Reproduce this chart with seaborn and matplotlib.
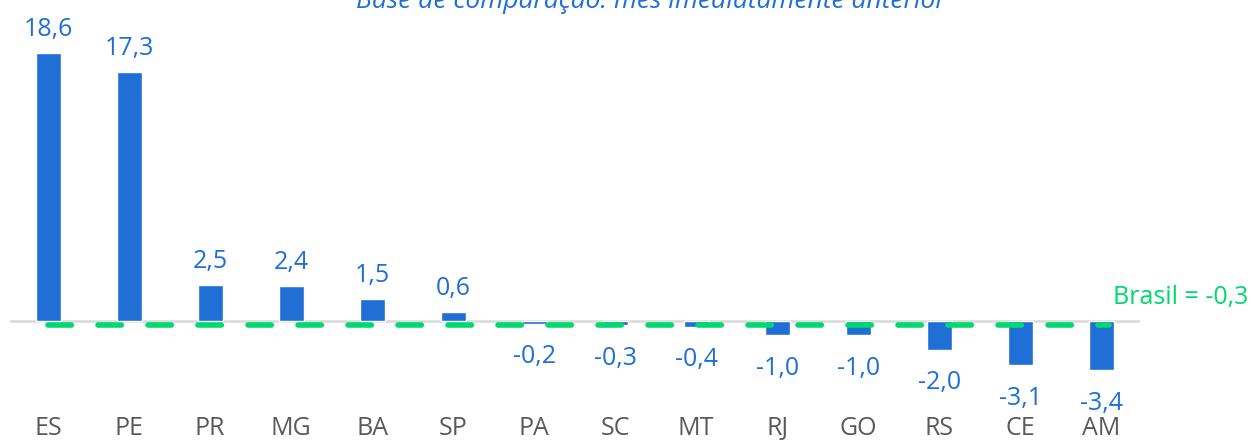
import matplotlib
matplotlib.use("Agg")
import matplotlib.pyplot as plt
import seaborn as sns
import pandas as pd

estados = ["ES", "PE", "PR", "MG", "BA", "SP", "PA", "SC", "MT", "RJ", "GO", "RS", "CE", "AM"]
variacao = [18.6, 17.3, 2.5, 2.4, 1.5, 0.6, -0.2, -0.3, -0.4, -1.0, -1.0, -2.0, -3.1, -3.4]
brasil = -0.3
titulo = "Base de comparação: mês imediatamente anterior"

azul = "#1F6FD6"
verde = "#00D96F"

sns.set_style("white")
plt.rcParams["font.family"] = ["Open Sans", "DejaVu Sans"]

df = pd.DataFrame({"estado": estados, "valor": variacao})

fig = plt.figure(figsize=(12.51, 4.43), dpi=100)
ax = fig.add_axes([10 / 1251, 1 - 410 / 443, 1130 / 1251, 380 / 443])

sns.barplot(data=df, x="estado", y="valor", color=azul, width=0.31,
            saturation=1, ax=ax, zorder=2)

# linha do zero e media Brasil
ax.axhline(0, color="#d9d9d9", lw=1.8, zorder=1)
ax.plot([0, len(estados) - 0.9], [brasil, brasil], color=verde, lw=4,
        ls=(0, (4.2, 4.8)), dash_capstyle="round", zorder=3)

for i, v in enumerate(variacao):
    txt = f"{v:.1f}".replace(".", ",")
    off = 17 if v >= 0 else -24
    ax.annotate(txt, (i, v), xytext=(0, off), textcoords="offset points",
                ha="center", va="center", fontsize=18, color=azul)

ax.annotate("Brasil = -0,3", (1.0, brasil), xycoords=ax.get_yaxis_transform(),
            xytext=(-19.5, 20), textcoords="offset points",
            ha="left", va="center", fontsize=18, color=verde)

ax.set_xlim(-0.47, 13.48)
ax.set_ylim(-6.2, 20.2)
ax.set_xlabel("")
ax.set_ylabel("")
ax.set_yticks([])
ax.tick_params(axis="x", length=0, pad=4, labelsize=18, labelcolor="#595959")
sns.despine(ax=ax, left=True, bottom=True)

fig.text(0.52, 1 - 8 / 443, titulo, ha="center", va="baseline",
         fontsize=19, style="italic", color=azul)

fig.savefig("out.png", dpi=100)
